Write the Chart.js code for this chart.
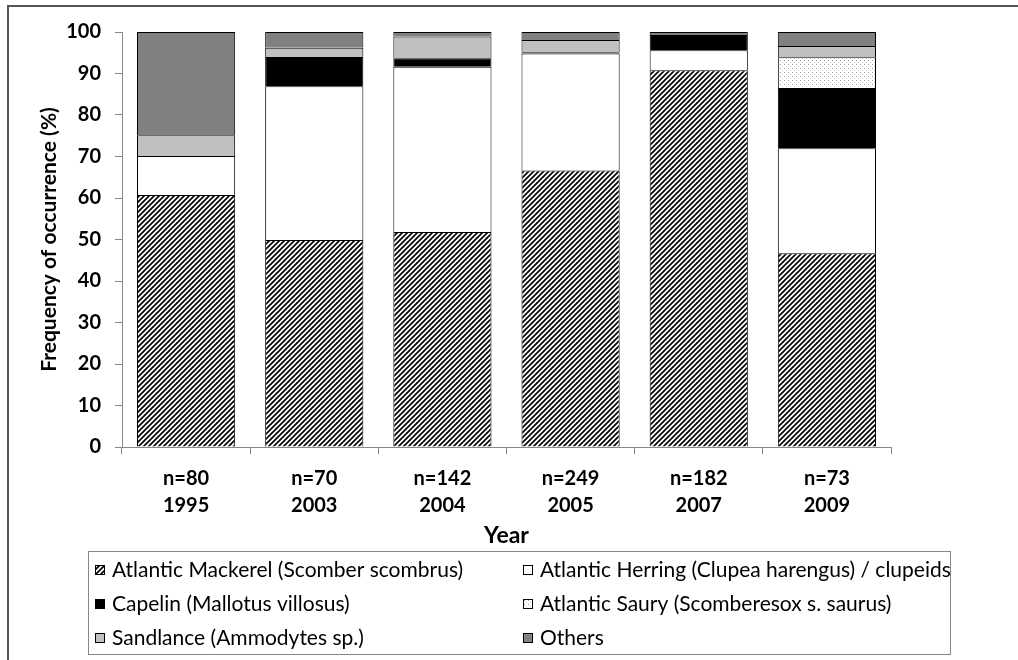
<!DOCTYPE html>
<html>
<head>
<meta charset="utf-8">
<script src="https://cdn.jsdelivr.net/npm/chart.js@4/dist/chart.umd.min.js"></script>
<style>
  body { margin: 0; background: #fff; }
  canvas { display: block; }
</style>
</head>
<body>
<canvas id="chartDiet" width="1018" height="660"></canvas>
<script>
// Kategori (tahun + jumlah sampel)
const years = ['1995', '2003', '2004', '2005', '2007', '2009'];
const sampleSizes = ['n=80', 'n=70', 'n=142', 'n=249', 'n=182', 'n=73'];

// Persentase frekuensi kemunculan tiap mangsa
const mackerel = [60.7, 49.9, 51.8, 66.6, 90.8, 46.7];
const herring = [9.4, 37.0, 39.8, 28.2, 4.8, 25.3];
const capelin = [0, 7.1, 2.1, 0.3, 3.7, 14.5];
const saury = [0, 0, 0, 0, 0, 7.4];
const sandlance = [5.0, 2.2, 5.2, 3.0, 0, 2.7];
const others = [24.9, 3.8, 1.1, 1.9, 0.7, 3.4];

const yTicks = [0, 10, 20, 30, 40, 50, 60, 70, 80, 90, 100];

const FONT = 'Lato';

const ctx = document.getElementById('chartDiet').getContext('2d');

// Pola arsiran diagonal untuk mackerel
function hatchPattern() {
  const c = document.createElement('canvas');
  c.width = 5; c.height = 5;
  const g = c.getContext('2d');
  g.fillStyle = '#fff';
  g.fillRect(0, 0, 5, 5);
  g.strokeStyle = '#000';
  g.lineWidth = 1.7;
  g.beginPath();
  g.moveTo(-1, 6); g.lineTo(6, -1);
  g.moveTo(-1, 1); g.lineTo(1, -1);
  g.moveTo(4, 6); g.lineTo(6, 4);
  g.stroke();
  return ctx.createPattern(c, 'repeat');
}

// Pola titik-titik untuk saury
function dotPattern() {
  const c = document.createElement('canvas');
  c.width = 4; c.height = 4;
  const g = c.getContext('2d');
  g.fillStyle = '#fff';
  g.fillRect(0, 0, 4, 4);
  g.fillStyle = '#999';
  g.fillRect(0, 0, 1, 1);
  g.fillStyle = '#ccc';
  g.fillRect(2, 2, 1, 1);
  return ctx.createPattern(c, 'repeat');
}

const series = [
  { label: 'Atlantic Mackerel (Scomber scombrus)', data: mackerel, fill: hatchPattern() },
  { label: 'Atlantic Herring (Clupea harengus) / clupeids', data: herring, fill: '#ffffff' },
  { label: 'Capelin (Mallotus villosus)', data: capelin, fill: '#000000' },
  { label: 'Atlantic Saury (Scomberesox s. saurus)', data: saury, fill: dotPattern() },
  { label: 'Sandlance (Ammodytes sp.)', data: sandlance, fill: '#c0c0c0' },
  { label: 'Others', data: others, fill: '#808080' },
];

// Legenda dua kolom dalam kotak + bingkai luar
const boxLegend = {
  id: 'boxLegend',
  afterDraw(chart) {
    const c = chart.ctx;
    c.save();
    // bingkai luar
    c.strokeStyle = '#555';
    c.lineWidth = 2;
    c.beginPath();
    c.moveTo(8, 660); c.lineTo(8, 6); c.lineTo(1018, 6);
    c.stroke();

    // kotak legenda
    c.strokeStyle = '#888';
    c.lineWidth = 1;
    c.strokeRect(88.5, 551.5, 862, 103);

    const colX = [95, 523];
    const rowY = [570, 604, 638];
    c.font = '21px ' + FONT;
    c.textBaseline = 'middle';
    chart.data.datasets.forEach((ds, i) => {
      const x = colX[i % 2];
      const y = rowY[Math.floor(i / 2)];
      c.fillStyle = ds.backgroundColor;
      c.fillRect(x, y - 5, 10, 10);
      c.strokeStyle = '#000';
      c.strokeRect(x + 0.5, y - 4.5, 9, 9);
      c.fillStyle = '#000';
      c.fillText(ds.label, x + 17, y);
    });
    c.restore();
  },
};

const chartDiet = new Chart(ctx, {
  type: 'bar',
  data: {
    labels: years.map((y, i) => [sampleSizes[i], y]),
    datasets: series.map((s) => ({
      label: s.label,
      data: s.data,
      backgroundColor: s.fill,
      borderColor: '#000',
      borderWidth: 1,
      barPercentage: 0.766,
      categoryPercentage: 1,
    })),
  },
  options: {
    responsive: false,
    animation: false,
    layout: { padding: { left: 0, top: 32, right: 127, bottom: 110 } },
    plugins: {
      legend: { display: false },
      tooltip: { enabled: false },
    },
    scales: {
      x: {
        stacked: true,
        afterFit: (scale) => { scale.height = 103; },
        border: { color: '#888', width: 1 },
        grid: { drawOnChartArea: false, tickLength: 7, color: '#888', offset: true },
        ticks: {
          color: '#000',
          font: { family: FONT, size: 20, weight: 'bold', lineHeight: 1.35 },
          padding: 11,
          maxRotation: 0,
        },
        title: {
          display: true,
          text: 'Year',
          color: '#000',
          font: { family: FONT, size: 23, weight: 'bold' },
          padding: { top: 0, bottom: 1 },
        },
      },
      y: {
        stacked: true,
        min: 0,
        max: 100,
        afterFit: (scale) => { scale.width = 122; },
        afterBuildTicks: (scale) => { scale.ticks = yTicks.map((v) => ({ value: v })); },
        border: { color: '#888', width: 1 },
        grid: { drawOnChartArea: false, tickLength: 7, color: '#888' },
        ticks: {
          color: '#000',
          font: { family: FONT, size: 20, weight: 'bold' },
          padding: 14,
        },
        title: {
          display: true,
          text: 'Frequency of occurrence (%)',
          color: '#000',
          font: { family: FONT, size: 21, weight: 'bold' },
          padding: { top: 37, bottom: 0 },
        },
      },
    },
  },
  plugins: [boxLegend],
});
</script>
</body>
</html>
